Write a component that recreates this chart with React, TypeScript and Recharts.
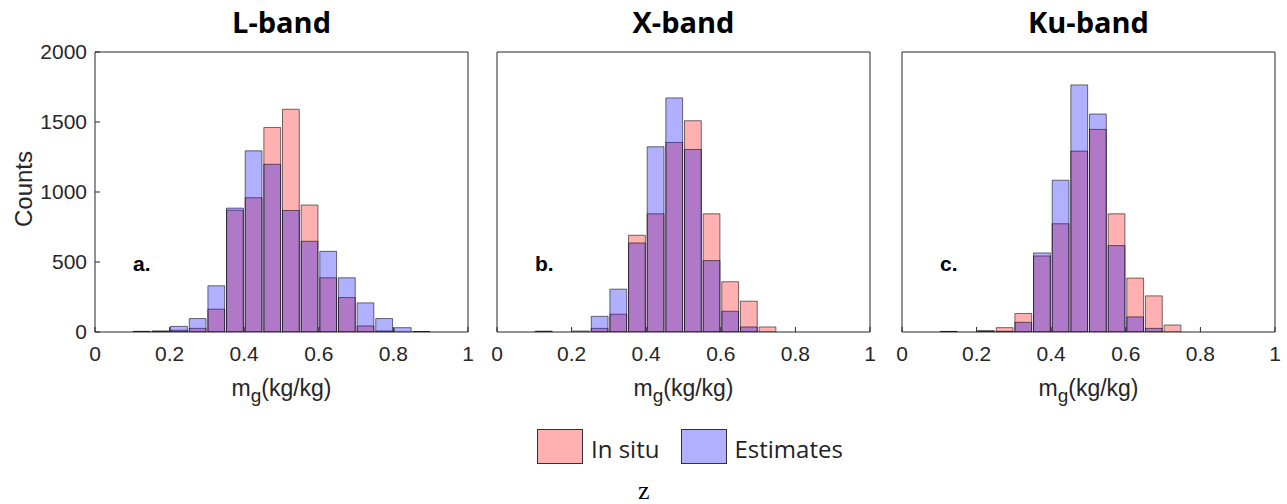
import { BarChart, Bar, XAxis, YAxis } from "recharts";

// bin centres of the 0.05-wide histogram bins (0.10 .. 0.90)
const binCenters = [0.125, 0.175, 0.225, 0.275, 0.325, 0.375, 0.425, 0.475, 0.525, 0.575, 0.625, 0.675, 0.725, 0.775, 0.825, 0.875];

const lInSitu = [3, 3, 12, 26, 163, 870, 959, 1461, 1591, 907, 387, 246, 43, 7, 0, 3];
const lEstimates = [5, 8, 40, 96, 330, 885, 1294, 1198, 868, 648, 576, 387, 208, 96, 31, 3];

const xInSitu = [5, 0, 7, 26, 127, 691, 844, 1354, 1509, 844, 359, 220, 36, 0, 0, 0];
const xEstimates = [5, 0, 0, 112, 306, 636, 1323, 1672, 1304, 510, 148, 36, 0, 0, 0, 0];

const kuInSitu = [4, 0, 8, 31, 132, 543, 773, 1292, 1447, 844, 385, 258, 50, 0, 0, 0];
const kuEstimates = [4, 0, 8, 5, 69, 565, 1084, 1765, 1557, 617, 108, 26, 0, 0, 0, 0];

const xTicks = [0, 0.2, 0.4, 0.6, 0.8, 1];
const yTicks = [0, 500, 1000, 1500, 2000];

const titles = ["L-band", "X-band", "Ku-band"];
const panelTags = ["a.", "b.", "c."];
const legendNames = ["In situ", "Estimates"];

const AXIS = "#262626";
const FONT = "'Liberation Sans', Arial, sans-serif";
const CAL = "'Open Sans', Lato, sans-serif";

const toRows = (insitu: number[], est: number[]) =>
  binCenters.map((x, i) => ({ x, insitu: insitu[i], est: est[i] }));

const panels = [
  { rows: toRows(lInSitu, lEstimates), left: 0, width: 480, yw: 95, mr: 11, labels: true },
  { rows: toRows(xInSitu, xEstimates), left: 400, width: 480, yw: 97, mr: 9, labels: false },
  { rows: toRows(kuInSitu, kuEstimates), left: 800, width: 487, yw: 102, mr: 11, labels: false },
];

const PLOT_W = 373;
const tickStyle = { fill: AXIS, fontSize: 21, fontFamily: FONT };

const Panel = ({ p, idx }: { p: any; idx: number }) => {
  const plotLeft = p.left + p.yw;
  const center = plotLeft + PLOT_W / 2;
  return (
    <>
      <div style={{ position: "absolute", left: center - 100, width: 200, top: 2, textAlign: "center", fontFamily: CAL, fontWeight: 700, fontSize: 29, lineHeight: "40px", color: "#000" }}>
        {titles[idx]}
      </div>
      <div style={{ position: "absolute", left: p.left, top: 0 }}>
        <BarChart width={p.width} height={400} data={p.rows} margin={{ top: 51, right: p.mr, left: 0, bottom: 38 }}>
          <XAxis xAxisId="b" dataKey="x" type="number" domain={[0, 1]} ticks={xTicks} allowDataOverflow
            stroke={AXIS} tickSize={-5} tickMargin={19} tick={tickStyle} height={30} />
          <XAxis xAxisId="t" dataKey="x" type="number" domain={[0, 1]} ticks={xTicks} allowDataOverflow
            orientation="top" stroke={AXIS} tickSize={-5} tick={false} height={1} />
          <YAxis yAxisId="l" type="number" domain={[0, 2000]} ticks={yTicks} allowDataOverflow
            stroke={AXIS} tickSize={-5} tickMargin={13} tick={p.labels ? tickStyle : false} width={p.yw} />
          <YAxis yAxisId="r" type="number" domain={[0, 2000]} ticks={yTicks} allowDataOverflow
            orientation="right" stroke={AXIS} tickSize={-5} tick={false} width={1} />
          <Bar xAxisId="b" yAxisId="l" dataKey="insitu" barSize={PLOT_W * 0.05} fill="#ff0000" fillOpacity={0.31}
            stroke="#000" strokeOpacity={0.55} strokeWidth={1} isAnimationActive={false} />
          <Bar xAxisId="t" yAxisId="l" dataKey="est" barSize={PLOT_W * 0.05} fill="#0000ff" fillOpacity={0.31}
            stroke="#000" strokeOpacity={0.55} strokeWidth={1} isAnimationActive={false} />
        </BarChart>
      </div>
      <div style={{ position: "absolute", left: plotLeft + 38, top: 252, fontFamily: FONT, fontWeight: 700, fontSize: 21, color: "#000" }}>
        {panelTags[idx]}
      </div>
      <div style={{ position: "absolute", left: center - 100, width: 200, top: 375, textAlign: "center", fontFamily: FONT, fontSize: 23, color: AXIS }}>
        m<sub style={{ fontSize: 19 }}>g</sub>(kg/kg)
      </div>
    </>
  );
};

export default function App() {
  return (
    <div style={{ position: "absolute", left: 0, top: 0, width: 1287, height: 504, background: "#fff", overflow: "hidden" }}>
      {panels.map((p, i) => (
        <Panel key={i} p={p} idx={i} />
      ))}
      <div style={{ position: "absolute", left: -26, top: 175, width: 100, textAlign: "center", transform: "rotate(-90deg)", fontFamily: FONT, fontSize: 24, color: AXIS }}>
        Counts
      </div>
      <div style={{ position: "absolute", left: 537, top: 428, display: "flex", alignItems: "center", fontFamily: CAL, fontSize: 24, color: "#222" }}>
        <div style={{ width: 44, height: 33, background: "#ffb0b0", border: "1.5px solid #333" }} />
        <span style={{ marginLeft: 8, marginTop: 4 }}>{legendNames[0]}</span>
        <div style={{ width: 44, height: 33, background: "#b0b0ff", border: "1.5px solid #333", marginLeft: 22 }} />
        <span style={{ marginLeft: 7, marginTop: 4 }}>{legendNames[1]}</span>
      </div>
      <div style={{ position: "absolute", left: 638, top: 476, fontFamily: "'Liberation Serif', serif", fontSize: 26, color: "#000" }}>
        z
      </div>
    </div>
  );
}
